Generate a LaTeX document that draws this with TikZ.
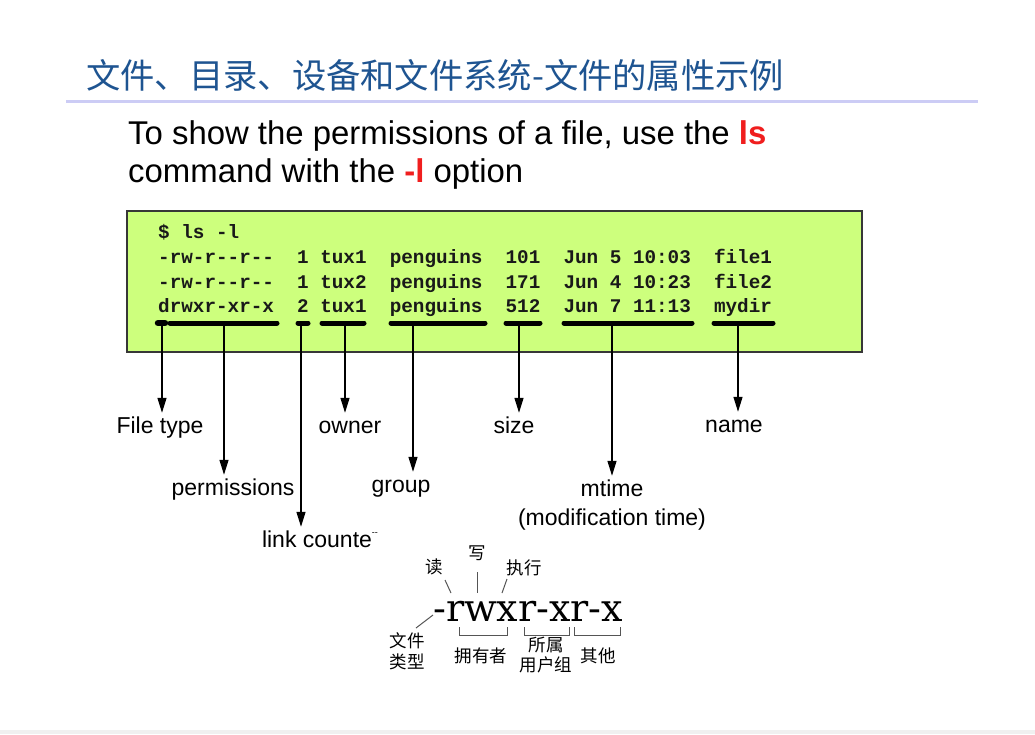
\documentclass[tikz,border=0pt]{standalone}
\usepackage{fontspec}
\setmainfont{Liberation Sans}
\newfontfamily\cjk{Noto Sans CJK SC}
\newfontfamily\mono{Liberation Mono}
\newfontfamily\permfont{DejaVu Serif}
\usetikzlibrary{arrows.meta}
\definecolor{titleblue}{RGB}{30,84,145}
\definecolor{rulelav}{RGB}{204,204,245}
\definecolor{termgreen}{RGB}{205,255,125}
\definecolor{termedge}{RGB}{55,55,55}
\definecolor{optred}{RGB}{240,30,30}
\definecolor{footgray}{RGB}{240,240,240}
\definecolor{notegray}{RGB}{85,85,85}
\begin{document}
\begin{tikzpicture}[x=1pt,y=-1pt,
  lbl/.style={inner sep=0pt, text height=17pt, text depth=5pt,
              font=\fontsize{23}{27}\selectfont, anchor=base},
  row/.style={anchor=base west, inner sep=0pt,
              font=\mono\bfseries\fontsize{19.3}{22}\selectfont, text=black!90},
  bar/.style={line width=5pt, line cap=round},
  arr/.style={line width=1.3pt, -{Triangle[length=15pt,width=9pt]}, shorten >=3pt},
  cjklbl/.style={inner sep=0pt, font=\cjk\fontsize{17.5}{20}\selectfont},
  note/.style={draw=notegray, line width=1pt}]
\useasboundingbox (0,0) rectangle (1035,734);
\fill[white] (0,0) rectangle (1035,734);
\fill[footgray] (0,730) rectangle (1035,734);

% heading and rule
\node[anchor=west, inner sep=0pt, text=titleblue,
      font=\cjk\fontsize{34.3}{40}\selectfont] (title) at (86,75)
  {文件、目录、设备和文件系统-文件的属性示例};
\draw[rulelav, line width=3pt] (66,101) -- (978,101);

% explanatory sentence
\node[anchor=base west, inner sep=0pt, font=\fontsize{32.9}{38}\selectfont] (intro1) at (128,144)
  {To show the permissions of a file, use the \textcolor{optred}{\bfseries ls}};
\node[anchor=base west, inner sep=0pt, font=\fontsize{32.9}{38}\selectfont] (intro2) at (128,182)
  {command with the \textcolor{optred}{\bfseries -l} option};

% terminal listing
\node[draw=termedge, line width=2pt, fill=termgreen, anchor=north west,
      minimum width=735pt, minimum height=141pt, inner sep=0pt] (term) at (126,210) {};
\node[row] (cmd)  at (158,238) {\$~ls~-l};
\node[row] (r1)   at (158,263) {-rw-r-{}-r-{}-~~1~tux1~~penguins~~101~~Jun~5~10:03~~file1};
\node[row] (r2)   at (158,288) {-rw-r-{}-r-{}-~~1~tux2~~penguins~~171~~Jun~4~10:23~~file2};
\node[row] (r3)   at (158,312) {drwxr-xr-x~~2~tux1~~penguins~~512~~Jun~7~11:13~~mydir};

% field underlines
\draw[bar, line width=6.5pt] (158,323) -- (165,323);
\draw[bar] (170,323) -- (277,323);
\draw[bar] (298,323) -- (308,323);
\draw[bar] (322,323) -- (364,323);
\draw[bar] (391,323) -- (485,323);
\draw[bar] (506,323) -- (540,323);
\draw[bar] (564,323) -- (692,323);
\draw[bar] (714,323) -- (773,323);

\coordinate (ftype) at (162,323);
\coordinate (fperm) at (224,323);
\coordinate (flink) at (301,323);
\coordinate (fown)  at (345,323);
\coordinate (fgrp)  at (413,323);
\coordinate (fsize) at (519,323);
\coordinate (ftime) at (612,323);
\coordinate (fname) at (738,323);

% field labels
\node[lbl] (ltype) at (160,433) {File type};
\node[lbl] (lperm) at (233,495) {permissions};
\node[lbl] (llink) at (320,547) {link counte\raisebox{0.5em}{\fontsize{9}{9}\selectfont -{}-}};
\node[lbl] (lown)  at (350,433) {owner};
\node[lbl] (lgrp)  at (401,492) {group};
\node[lbl] (lsize) at (514,433) {size};
\node[lbl] (ltime) at (612,496) {mtime};
\node[lbl] (ltimenote) at (612,525) {(modification time)};
\node[lbl] (lname) at (734,432) {name};

\draw[arr] (ftype) -- (ftype |- ltype.north);
\draw[arr] (fperm) -- (fperm |- lperm.north);
\draw[arr] (flink) -- (flink |- llink.north);
\draw[arr] (fown)  -- (fown  |- lown.north);
\draw[arr] (fgrp)  -- (fgrp  |- lgrp.north);
\draw[arr] (fsize) -- (fsize |- lsize.north);
\draw[arr] (ftime) -- (ftime |- ltime.north);
\draw[arr] (fname) -- (fname |- lname.north);

% permission string breakdown
\node[anchor=base west, inner sep=0pt, font=\permfont\fontsize{38}{42}\selectfont] (perm) at (433,621) {-rwxr-xr-x};

\node[cjklbl] (rd)   at (434,567) {读};
\node[cjklbl] (wr)   at (477,553) {写};
\node[cjklbl] (ex)   at (524,568) {执行};
\node[cjklbl] (tp1)  at (407,641) {文件};
\node[cjklbl] (tp2)  at (407,662) {类型};
\node[cjklbl] (own)  at (481,656) {拥有者};
\node[cjklbl] (grp1) at (546,645) {所属};
\node[cjklbl] (grp2) at (546,665) {用户组};
\node[cjklbl] (oth)  at (598,656) {其他};

\draw[note] (445,580) -- (451,593);
\draw[note] (477,572) -- (477,593);
\draw[note] (507,579) -- (502,593);
\draw[note] (433,615) -- (416,628);
\draw[note] (459,627) -- (459,635) -- (507,635) -- (507,627);
\draw[note] (524,627) -- (524,635) -- (569,635) -- (569,627);
\draw[note] (574,627) -- (574,635) -- (620,635) -- (620,627);
\end{tikzpicture}
\end{document}
